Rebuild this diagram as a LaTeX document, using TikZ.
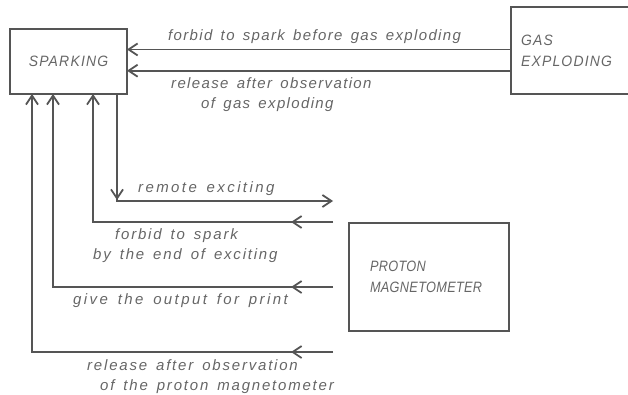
\documentclass[tikz,border=0pt]{standalone}
\usepackage{fontspec}
\setmainfont{Liberation Sans}[LetterSpace=12,WordSpace=1.5]
\newfontfamily\boxfont{Liberation Sans}[LetterSpace=8,FakeStretch=0.93]
\newfontfamily\protfont{Liberation Sans}[LetterSpace=2,FakeStretch=0.85]
\usetikzlibrary{arrows.meta,decorations.markings}
\definecolor{linec}{HTML}{555555}
\definecolor{textc}{HTML}{666666}
\begin{document}
\begin{tikzpicture}[x=1pt,y=-1pt,
  >={Straight Barb[length=9pt,width=12pt]},
  conn/.style={draw=linec,line width=1.8pt},
  midtip/.style={postaction={decorate},decoration={markings,mark=at position #1 with {\arrow{>}}}},
  box/.style={draw=linec,line width=1.5pt,inner ysep=0pt,outer sep=0pt,rectangle,
    font=\boxfont\fontsize{15}{21}\selectfont\itshape,text=textc},
  lbl/.style={inner sep=0pt,font=\fontsize{15}{20}\selectfont\itshape,text=textc,align=left},
  ls/.style={font=\fontsize{15}{20}\selectfont\itshape\addfontfeatures{LetterSpace=#1}}]
\useasboundingbox (0,0) rectangle (628,395);
\clip (0,0) rectangle (628,395);
% boxes
\node[box,minimum width=117pt,minimum height=65pt] (spark) at (68.5,61.5) {SPARKING};
\node[box,minimum width=124pt,minimum height=87pt,text width=104pt,inner xsep=10pt,align=left] (gas) at (573,50.5) {GAS\\EXPLODING};
\node[box,minimum width=160pt,minimum height=108pt,text width=118pt,inner xsep=21pt,align=left,
  font=\protfont\fontsize{15}{21}\selectfont\itshape] (prot) at (429,277) {PROTON\\MAGNETOMETER};
% helper coordinates
\coordinate (a1) at (0,49.5);
\coordinate (a2) at (0,70.7);
\coordinate (c1) at (117,0);
\coordinate (c2) at (93,0);
\coordinate (c3) at (53,0);
\coordinate (c4) at (32,0);
\coordinate (r1) at (333,201);
\coordinate (r2) at (333,222);
\coordinate (r3) at (333,287);
\coordinate (r4) at (333,352);
% top connectors
\draw[conn,->] (gas.west |- a1) -- (spark.east |- a1);
\draw[conn,->] (gas.west |- a2) -- (spark.east |- a2);
% bottom connectors
\draw[conn,->,midtip=106pt] (spark.south -| c1) |- (r1);
\draw[conn,->,midtip=42pt] (r2) -| (spark.south -| c2);
\draw[conn,->,midtip=42pt] (r3) -| (spark.south -| c3);
\draw[conn,->,midtip=42pt] (r4) -| (spark.south -| c4);
% labels
\node[lbl,ls=9,anchor=base west] (l1) at (168,41) {forbid to spark before gas exploding};
\node[lbl,ls=9,anchor=north west] (l2) at (171,77) {release after observation\\\hspace*{30pt}of gas exploding};
\node[lbl,ls=16,anchor=base west] (l3) at (138,193) {remote exciting};
\node[lbl,anchor=north west] (l4) at (93,228) {\hspace*{22pt}forbid to spark\\by the end of exciting};
\node[lbl,ls=16,anchor=base west] (l5) at (73,304) {give the output for print};
\node[lbl,anchor=north west] (l6) at (87,359) {release after observation\\\hspace*{13pt}of the proton magnetometer};
\end{tikzpicture}
\end{document}
